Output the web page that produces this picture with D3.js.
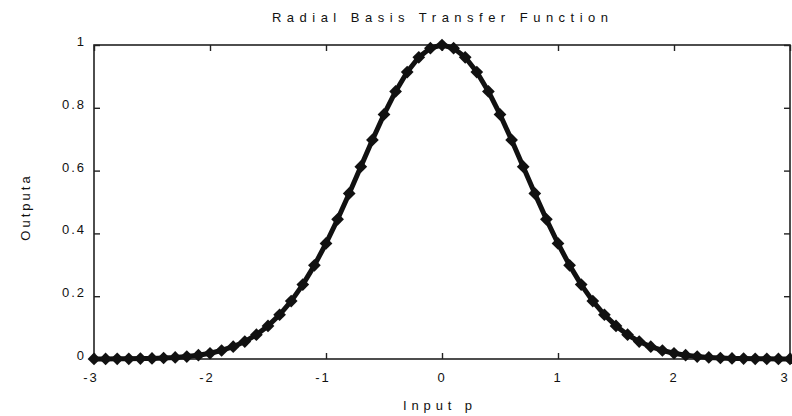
<!DOCTYPE html>
<html><head><meta charset="utf-8">
<script src="https://cdn.jsdelivr.net/npm/d3@7/dist/d3.min.js"></script>
<style>body{margin:0;background:#fff}svg{display:block}text{font-family:"Liberation Sans",Arial,sans-serif;fill:#111}</style>
</head><body><svg id="c" width="792" height="416"></svg>
<script>
const inputs = [-3.0,-2.9,-2.8,-2.7,-2.6,-2.5,-2.4,-2.3,-2.2,-2.1,-2.0,-1.9,-1.8,-1.7,-1.6,-1.5,-1.4,-1.3,-1.2,-1.1,-1.0,-0.9,-0.8,-0.7,-0.6,-0.5,-0.4,-0.3,-0.2,-0.1,0.0,0.1,0.2,0.3,0.4,0.5,0.6,0.7,0.8,0.9,1.0,1.1,1.2,1.3,1.4,1.5,1.6,1.7,1.8,1.9,2.0,2.1,2.2,2.3,2.4,2.5,2.6,2.7,2.8,2.9,3.0];
const outputs = [0.0001,0.0002,0.0004,0.0007,0.0012,0.0019,0.0032,0.0050,0.0079,0.0122,0.0183,0.0271,0.0392,0.0556,0.0773,0.1054,0.1409,0.1845,0.2369,0.2982,0.3679,0.4449,0.5273,0.6126,0.6977,0.7788,0.8521,0.9139,0.9608,0.9900,1.0000,0.9900,0.9608,0.9139,0.8521,0.7788,0.6977,0.6126,0.5273,0.4449,0.3679,0.2982,0.2369,0.1845,0.1409,0.1054,0.0773,0.0556,0.0392,0.0271,0.0183,0.0122,0.0079,0.0050,0.0032,0.0019,0.0012,0.0007,0.0004,0.0002,0.0001];
const xTicks = [-3,-2,-1,0,1,2,3];
const xTickLabels = ["-3","-2","-1","0","1","2","3"];
const yTicks = [0,0.2,0.4,0.6,0.8,1];
const yTickLabels = ["0","0.2","0.4","0.6","0.8","1"];
const title = "Radial Basis Transfer Function";
const xLabel = "Input p";
const yLabel = "Outputa";

const L=94,R=790,T=45,B=359;
const x=d3.scaleLinear().domain([-3,3]).range([L,R]);
const y=d3.scaleLinear().domain([0,1]).range([B,T]);
const svg=d3.select("#c");

svg.append("rect").attr("x",L).attr("y",T).attr("width",R-L).attr("height",B-T)
  .attr("fill","none").attr("stroke","#222").attr("stroke-width",1.6);

const ax=(g,axis)=>{g.call(axis);g.select(".domain").remove();g.selectAll("line").attr("stroke","#222").attr("stroke-width",1.4);g.selectAll("text").remove();};
svg.append("g").attr("transform",`translate(0,${B})`).call(g=>ax(g,d3.axisBottom(x).tickValues(xTicks).tickSize(-6)));
svg.append("g").attr("transform",`translate(0,${T})`).call(g=>ax(g,d3.axisTop(x).tickValues(xTicks).tickSize(-6)));
svg.append("g").attr("transform",`translate(${L},0)`).call(g=>ax(g,d3.axisLeft(y).tickValues(yTicks).tickSize(-6)));
svg.append("g").attr("transform",`translate(${R},0)`).call(g=>ax(g,d3.axisRight(y).tickValues(yTicks).tickSize(-6)));

svg.append("g").selectAll("text").data(xTicks).join("text")
  .attr("x",d=>Math.min(x(d)-(d<0?3:0),785)).attr("y",B+23).attr("text-anchor","middle")
  .attr("font-size",13).attr("letter-spacing",2).text((d,i)=>xTickLabels[i]);
svg.append("g").selectAll("text").data(yTicks).join("text")
  .attr("x",L-8).attr("y",d=>y(d)+1).attr("text-anchor","end")
  .attr("font-size",13).attr("letter-spacing",2).text((d,i)=>yTickLabels[i]);

const pts=inputs.map((p,i)=>[p,outputs[i]]);
svg.append("path").datum(pts).attr("fill","none").attr("stroke","#111").attr("stroke-width",5)
  .attr("stroke-linejoin","round").attr("d",d3.line().x(d=>x(d[0])).y(d=>y(d[1])));
svg.append("g").selectAll("rect").data(pts).join("rect")
  .attr("x",d=>x(d[0])-4.5).attr("y",d=>y(d[1])-4.5).attr("width",9).attr("height",9)
  .attr("fill","#111").attr("transform",d=>`rotate(45,${x(d[0])},${y(d[1])})`);

svg.append("text").attr("x",272).attr("y",22).attr("font-size",13)
  .attr("textLength",336).attr("lengthAdjust","spacing").text(title);
svg.append("text").attr("x",403).attr("y",410).attr("font-size",13)
  .attr("textLength",69).attr("lengthAdjust","spacing").text(xLabel);
svg.append("text").attr("transform","translate(30,207) rotate(-90)").attr("text-anchor","middle")
  .attr("font-size",13).attr("letter-spacing",3).text(yLabel);
</script></body></html>
